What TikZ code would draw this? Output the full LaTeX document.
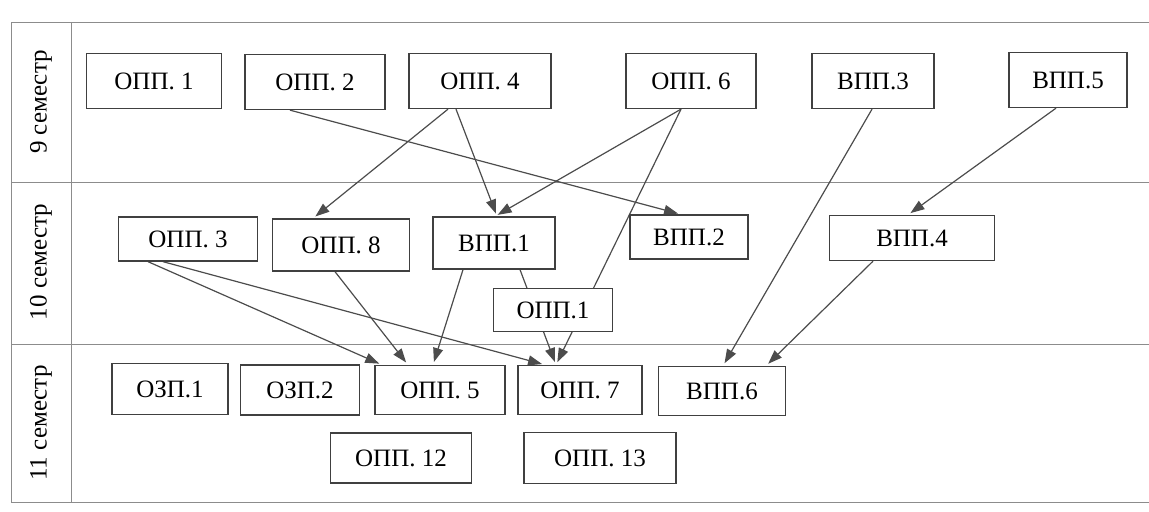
\documentclass[tikz,border=0pt]{standalone}
\usepackage{fontspec}
\setmainfont{Liberation Serif}
\usetikzlibrary{arrows.meta,calc,backgrounds}

\begin{document}
\begin{tikzpicture}[x=0.5pt,y=-0.5pt,
	subj/.style={draw=black!75, line width=0.65pt, fill=white, inner sep=0pt, font=\fontsize{12.5}{15}\selectfont},
	term/.style={rotate=90, font=\fontsize{12.5}{15}\selectfont},
	link/.style={-{Triangle[length=7pt,width=5pt]}, black!70, line width=0.6pt, shorten >=1.5pt},
	rule/.style={black!45, line width=0.5pt}]
					\pgfmathsetmacro{\RowA}{22}
					\pgfmathsetmacro{\RowB}{182}
					\pgfmathsetmacro{\RowC}{344}
					\pgfmathsetmacro{\RowD}{502}
					\useasboundingbox (0,0) rectangle (1149,511);
					% SEMESTERS
					\node[term] (sem9) at (41,102) {9 семестр};
					\node[term] (sem10) at (41,262) {10 семестр};
					\node[term] (sem11) at (41,423) {11 семестр};
					% 9 SEMESTER
					\node[subj, minimum width=67.5pt, minimum height=27.5pt] (opp1) at (154,81) {ОПП. 1};
					\node[subj, minimum width=70pt, minimum height=27.5pt] (opp2) at (315,82) {ОПП. 2};
					\node[subj, minimum width=71pt, minimum height=27.5pt] (opp4) at (480,81) {ОПП. 4};
					\node[subj, minimum width=65pt, minimum height=27.5pt] (opp6) at (691,81) {ОПП. 6};
					\node[subj, minimum width=61pt, minimum height=27.5pt] (vpp3) at (873,81) {ВПП.3};
					\node[subj, minimum width=59pt, minimum height=27.5pt] (vpp5) at (1068,80) {ВПП.5};
					% 10 SEMESTER
					\node[subj, minimum width=69.5pt, minimum height=22pt] (opp3) at (188,239) {ОПП. 3};
					\node[subj, minimum width=68.5pt, minimum height=26pt] (opp8) at (341,245) {ОПП. 8};
					\node[subj, minimum width=61pt, minimum height=26pt] (vpp1) at (494,243) {ВПП.1};
					\node[subj, minimum width=59pt, minimum height=22pt] (vpp2) at (689,237) {ВПП.2};
					\node[subj, minimum width=82.5pt, minimum height=22.5pt] (vpp4) at (912,238) {ВПП.4};
					\node[subj, minimum width=59.5pt, minimum height=21.5pt] (oppx) at (553,310) {ОПП.1};
					% 11 SEMESTER
					\node[subj, minimum width=58pt, minimum height=25.5pt] (ozp1) at (170,389) {ОЗП.1};
					\node[subj, minimum width=59.5pt, minimum height=25pt] (ozp2) at (300,390) {ОЗП.2};
					\node[subj, minimum width=65pt, minimum height=24.5pt] (opp5) at (440,390) {ОПП. 5};
					\node[subj, minimum width=62pt, minimum height=24.5pt] (opp7) at (580,390) {ОПП. 7};
					\node[subj, minimum width=63.5pt, minimum height=24.5pt] (vpp6) at (722,391) {ВПП.6};
					\node[subj, minimum width=70.5pt, minimum height=25pt] (opp12) at (401,458) {ОПП. 12};
					\node[subj, minimum width=76pt, minimum height=25.5pt] (opp13) at (600,458) {ОПП. 13};
					\begin{pgfonlayer}{background}
					% TABLE
					\draw[rule] (11,\RowA) -- (1149,\RowA);
					\draw[rule] (11,\RowB) -- (1149,\RowB);
					\draw[rule] (11,\RowC) -- (1149,\RowC);
					\draw[rule] (11,\RowD) -- (1149,\RowD);
					\draw[rule] (11,\RowA) -- (11,\RowD);
					\draw[rule] (71,\RowA) -- (71,\RowD);
					% LINKS
					\draw[link] ($(opp2.south)+(-25,0)$) -- ($(vpp2.north)+(-8,0)$);
					\draw[link] ($(opp4.south)+(-32,0)$) -- ($(opp8.north)+(-28,0)$);
					\draw[link] ($(opp4.south)+(-24,0)$) -- ($(vpp1.north)+(3,0)$);
					\draw[link] ($(opp6.south)+(-10,0)$) -- ($(vpp1.north)+(1,0)$);
					\draw[link] ($(opp6.south)+(-10,0)$) -- ($(opp7.north)+(-24,0)$);
					\draw[link] ($(vpp1.south)+(26,0)$) -- ($(opp7.north)+(-24,0)$);
					\draw[link] ($(vpp1.south)+(-31,0)$) -- ($(opp5.north)+(-7,0)$);
					\draw[link] ($(opp8.south)+(-6,0)$) -- ($(opp5.north)+(-32,0)$);
					\draw[link] ($(opp3.south)+(-40,0)$) -- ($(opp5.north)+(-58,0)$);
					\draw[link] ($(opp3.south)+(-25,0)$) -- ($(opp7.north)+(-35,0)$);
					\draw[link] ($(vpp3.south)+(-1,0)$) -- ($(vpp6.north)+(1,0)$);
					\draw[link] ($(vpp5.south)+(-12,0)$) -- ($(vpp4.north)+(-4,0)$);
					\draw[link] ($(vpp4.south)+(-39,0)$) -- ($(vpp6.north)+(44,0)$);
					\end{pgfonlayer}
				\end{tikzpicture}
\end{document}
